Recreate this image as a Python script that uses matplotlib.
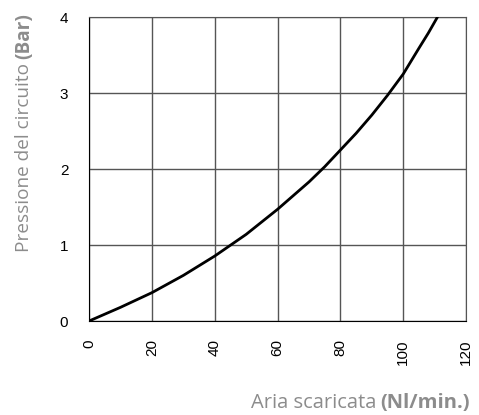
import matplotlib.pyplot as plt

# values
air_flow = [0, 10, 20, 30, 40, 50, 60, 70, 75, 80, 85, 90, 95, 100, 105, 108, 110.9]
pressure = [0, 0.18, 0.373, 0.60, 0.855, 1.14, 1.47, 1.83, 2.03, 2.25, 2.47, 2.71, 2.97,
            3.25, 3.59, 3.79, 4.0]

x_ticks = [0, 20, 40, 60, 80, 100, 120]
y_ticks = [0, 1, 2, 3, 4]

fig = plt.figure(figsize=(4.79, 4.15), dpi=100)
ax = fig.add_axes([0.186, 0.2265, 0.787, 0.7325])

ax.plot(air_flow, pressure, color='black', lw=2, solid_capstyle='round', zorder=3)

ax.set_xlim(0, 120)
ax.set_ylim(0, 4)
ax.set_xticks(x_ticks)
ax.set_yticks(y_ticks)
ax.set_xticklabels([str(v) for v in x_ticks], rotation=90, family='Liberation Sans', fontsize=11)
ax.set_yticklabels([str(v) for v in y_ticks], family='Liberation Sans', fontsize=11)
ax.tick_params(axis='x', length=0, pad=13)
ax.tick_params(axis='y', length=0, pad=15)
# only the origin gets a small tick mark
ax.set_xticks([0], minor=True)
ax.set_yticks([0], minor=True)
ax.tick_params(which='minor', length=10, width=1, color='black', direction='inout')

ax.grid(True, color='#555555', lw=1)
for side in ['top', 'right']:
    ax.spines[side].set_color('#555555')
for side in ['left', 'bottom']:
    ax.spines[side].set_color('black')

# axis titles: gray text with a bold unit part
gray = '#8c8c8c'
W, H = 479, 415
fig.canvas.draw()
r = fig.canvas.get_renderer()

# y title, reading bottom to top, ending near the top of the axes
ytop = 1 - 13 / H
yx = 24 / W
b = fig.text(yx, ytop, '(Bar)', rotation=90, ha='center', va='top', color=gray,
             family='Open Sans', weight='bold', fontsize=13.7)
hb = b.get_window_extent(r).height
fig.text(yx, ytop - (hb + 4) / H, 'Pressione del circuito', rotation=90, ha='center', va='top',
         color=gray, family='Open Sans', fontsize=13.7)

# x title, right aligned near the right edge
xr = 470 / W
xy = 1 - 403 / H
b = fig.text(xr, xy, '(Nl/min.)', ha='right', va='center', color=gray,
             family='Open Sans', weight='bold', fontsize=14.5)
wb = b.get_window_extent(r).width
fig.text(xr - (wb + 4) / W, xy, 'Aria scaricata', ha='right', va='center', color=gray,
         family='Open Sans', fontsize=14.5)

fig.savefig('out.png', dpi=100)
